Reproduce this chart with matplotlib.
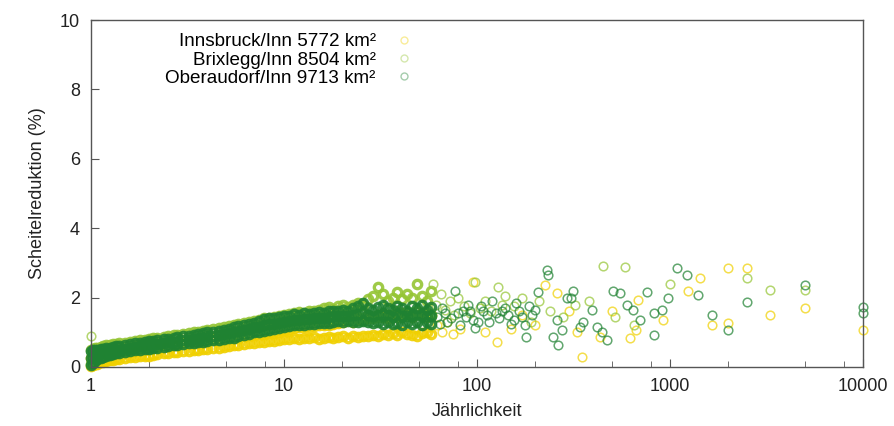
import matplotlib
matplotlib.use('Agg')
import matplotlib.pyplot as plt
from matplotlib.lines import Line2D
from matplotlib.ticker import FixedLocator, NullFormatter
import numpy as np

plt.rcParams['font.family'] = ['Liberation Sans', 'DejaVu Sans']

# ---- data ----
# dense part (T <= ~60): shared return periods, lower / upper edge of the scatter
t_dense = [1.0, 1.02, 1.05, 1.08, 1.12, 1.16, 1.2, 1.25, 1.3, 1.35,
           1.4, 1.5, 1.6, 1.7, 1.8, 1.9, 2.0, 2.1, 2.2, 2.4,
           2.5, 2.7, 2.8, 3.0, 3.2, 3.4, 3.6, 3.8, 4.0, 4.3,
           4.6, 4.9, 5.2, 5.5, 5.8, 6.2, 6.6, 7.0, 7.4, 7.9,
           8.4, 8.9, 9.4, 10, 10.6, 11.3, 12, 12.7, 13.5, 14.3,
           15.2, 16.1, 17, 18, 19.1, 20.3, 21.5, 22.8, 24.2, 25.7,
           27.2, 28.8, 30.6, 32.4, 34.4, 36.5, 38.7, 41, 43.5, 46,
           49, 52, 55, 58]

inn_lo = [0.02, 0.05, 0.08, 0.1, 0.13, 0.15, 0.17, 0.19, 0.21, 0.23,
          0.24, 0.26, 0.28, 0.3, 0.31, 0.32, 0.33, 0.35, 0.37, 0.39,
          0.4, 0.42, 0.43, 0.45, 0.47, 0.48, 0.5, 0.51, 0.53, 0.55,
          0.56, 0.58, 0.6, 0.62, 0.64, 0.66, 0.68, 0.7, 0.72, 0.73,
          0.74, 0.76, 0.78, 0.8, 0.82, 0.84, 0.82, 0.85, 0.83, 0.86,
          0.82, 0.84, 0.87, 0.83, 0.86, 0.88, 0.84, 0.9, 0.86, 0.9,
          0.88, 0.93, 0.9, 0.95, 0.92, 0.97, 0.92, 1.0, 0.95, 0.92,
          0.9, 0.98, 1.02, 0.95]
inn_hi = [0.25, 0.27, 0.28, 0.3, 0.32, 0.33, 0.35, 0.36, 0.38, 0.39,
          0.4, 0.42, 0.44, 0.46, 0.48, 0.5, 0.52, 0.54, 0.56, 0.58,
          0.6, 0.62, 0.64, 0.66, 0.68, 0.7, 0.72, 0.74, 0.76, 0.78,
          0.8, 0.82, 0.84, 0.86, 0.88, 0.9, 0.93, 0.96, 0.98, 1.0,
          1.02, 1.04, 1.06, 1.08, 1.1, 1.12, 1.14, 1.15, 1.16, 1.18,
          1.2, 1.2, 1.22, 1.25, 1.28, 1.3, 1.35, 1.3, 1.38, 1.35,
          1.4, 1.45, 1.5, 1.45, 1.4, 1.5, 1.45, 1.55, 1.5, 1.45,
          1.6, 1.55, 1.45, 1.5]

brx_lo = [0.08, 0.15, 0.2, 0.25, 0.3, 0.33, 0.35, 0.38, 0.4, 0.43,
          0.45, 0.48, 0.5, 0.52, 0.55, 0.56, 0.58, 0.6, 0.62, 0.64,
          0.65, 0.68, 0.7, 0.72, 0.74, 0.76, 0.78, 0.8, 0.82, 0.84,
          0.86, 0.88, 0.9, 0.93, 0.96, 1.0, 1.02, 1.05, 1.08, 1.1,
          1.12, 1.15, 1.18, 1.2, 1.22, 1.25, 1.26, 1.28, 1.3, 1.3,
          1.32, 1.35, 1.38, 1.4, 1.38, 1.4, 1.42, 1.38, 1.45, 1.4,
          1.5, 1.42, 1.45, 1.55, 1.5, 1.45, 1.6, 1.5, 1.48, 1.55,
          1.6, 1.5, 1.55, 1.5]
brx_hi = [0.5, 0.52, 0.55, 0.56, 0.58, 0.6, 0.62, 0.63, 0.65, 0.66,
          0.68, 0.7, 0.72, 0.75, 0.77, 0.79, 0.81, 0.83, 0.85, 0.87,
          0.89, 0.91, 0.93, 0.95, 0.97, 1.0, 1.02, 1.04, 1.06, 1.09,
          1.12, 1.14, 1.17, 1.2, 1.23, 1.27, 1.3, 1.33, 1.36, 1.4,
          1.42, 1.45, 1.48, 1.5, 1.53, 1.55, 1.58, 1.56, 1.6, 1.62,
          1.65, 1.7, 1.72, 1.68, 1.75, 1.8, 1.72, 1.78, 1.85, 1.8,
          1.95, 2.05, 2.3, 2.1, 1.9, 2.0, 2.15, 1.95, 2.1, 2.0,
          2.4, 2.05, 1.9, 2.2]

obd_lo = [0.05, 0.12, 0.18, 0.22, 0.26, 0.3, 0.32, 0.35, 0.37, 0.4,
          0.41, 0.44, 0.46, 0.48, 0.5, 0.52, 0.53, 0.55, 0.56, 0.58,
          0.6, 0.62, 0.63, 0.65, 0.68, 0.7, 0.72, 0.73, 0.75, 0.77,
          0.78, 0.8, 0.83, 0.85, 0.88, 0.92, 0.96, 1.0, 1.02, 1.05,
          1.08, 1.1, 1.12, 1.15, 1.18, 1.2, 1.22, 1.22, 1.24, 1.25,
          1.26, 1.27, 1.28, 1.3, 1.32, 1.3, 1.32, 1.3, 1.3, 1.32,
          1.3, 1.28, 1.3, 1.25, 1.3, 1.25, 1.28, 1.22, 1.3, 1.25,
          1.3, 1.22, 1.3, 1.25]
obd_mid = [0.25, 0.3, 0.34, 0.36, 0.39, 0.41, 0.43, 0.45, 0.47, 0.5,
           0.5, 0.53, 0.55, 0.58, 0.6, 0.62, 0.63, 0.65, 0.67, 0.69,
           0.71, 0.73, 0.75, 0.77, 0.79, 0.81, 0.84, 0.85, 0.88, 0.9,
           0.92, 0.94, 0.97, 1.0, 1.03, 1.06, 1.1, 1.14, 1.16, 1.2,
           1.23, 1.25, 1.27, 1.3, 1.33, 1.36, 1.36, 1.38, 1.38, 1.4,
           1.42, 1.41, 1.44, 1.46, 1.46, 1.48, 1.47, 1.5, 1.52, 1.58,
           1.5, 1.46, 1.51, 1.52, 1.5, 1.45, 1.52, 1.46, 1.46, 1.5,
           1.5, 1.51, 1.48, 1.48]
obd_hi = [0.45, 0.48, 0.5, 0.5, 0.52, 0.53, 0.55, 0.56, 0.58, 0.6,
          0.6, 0.63, 0.65, 0.68, 0.7, 0.72, 0.74, 0.76, 0.78, 0.8,
          0.82, 0.84, 0.86, 0.88, 0.9, 0.93, 0.95, 0.97, 1.0, 1.02,
          1.05, 1.08, 1.1, 1.14, 1.18, 1.2, 1.24, 1.28, 1.32, 1.37,
          1.4, 1.42, 1.44, 1.46, 1.48, 1.52, 1.5, 1.55, 1.52, 1.55,
          1.58, 1.55, 1.6, 1.62, 1.6, 1.65, 1.62, 1.7, 1.75, 1.85,
          1.7, 1.65, 1.72, 1.8, 1.7, 1.65, 1.75, 1.7, 1.62, 1.75,
          1.7, 1.8, 1.65, 1.72]

# sparse part (single events)
t_inn = [62, 66, 70, 75, 82, 95, 110, 127, 150, 170, 200, 225, 260, 300, 330,
         350, 435, 500, 620, 670, 680, 920, 1240, 1430, 1650, 2000, 2000, 2500,
         3300, 5000, 10000]
y_inn = [1.2, 1.0, 1.3, 0.95, 1.1, 2.45, 1.0, 0.72, 1.1, 1.5, 1.2, 2.36, 2.13, 1.6, 1.0,
         0.29, 0.86, 1.6, 0.84, 1.07, 1.93, 1.35, 2.2, 2.56, 1.2, 2.85, 1.27, 2.85,
         1.5, 1.7, 1.07]

t_brx = [1.0, 59, 61, 65, 68, 72, 76, 80, 86, 92, 98, 104, 110, 118, 128, 135, 140, 155,
         170, 190, 210, 240, 280, 320, 380, 447, 520, 583, 650, 1000, 2500, 3300, 5000]
y_brx = [0.9, 2.4, 1.8, 2.1, 1.65, 1.9, 1.5, 2.0, 1.75, 1.55, 2.45, 1.7, 1.9, 1.6, 2.3, 1.8, 2.05, 1.75,
         2.0, 1.3, 1.9, 1.6, 1.45, 1.8, 1.9, 2.9, 1.45, 2.88, 1.2, 2.4, 2.56, 2.22, 2.22]

t_obd = [62, 64, 66, 68, 70, 73, 77, 80, 82, 85, 88, 90, 92, 95, 98, 101, 105, 108,
         112, 116, 120, 125, 130, 135, 140, 145, 150, 155, 160, 165, 170, 177, 180,
         185, 192, 200, 207, 230, 233, 248, 260, 262, 275, 292, 305, 315, 340, 355,
         394, 420, 445, 470, 505, 550, 600, 640, 700, 760, 830, 830, 910, 980, 1090,
         1220, 1400, 1650, 2000, 2500, 5000, 10000, 10000]
y_obd = [1.45, 1.25, 1.7, 1.55, 1.3, 1.4, 2.2, 1.55, 1.2, 1.6, 1.45, 1.8, 1.6, 1.35, 1.12, 1.3, 1.75, 1.6,
         1.5, 1.3, 1.9, 1.55, 1.4, 1.6, 1.7, 1.5, 1.25, 1.35, 1.85, 1.6, 1.45, 1.2, 0.86,
         1.75, 1.5, 1.64, 2.17, 2.8, 2.65, 0.86, 1.35, 0.63, 1.07, 2.0, 2.0, 2.2, 1.15, 1.3,
         1.64, 1.15, 1.0, 0.78, 2.2, 2.13, 1.8, 1.64, 1.35, 2.17, 1.55, 0.92, 1.64, 2.0, 2.85,
         2.65, 2.07, 1.5, 1.07, 1.87, 2.36, 1.73, 1.55]

labels = ['Innsbruck/Inn 5772 km²', 'Brixlegg/Inn 8504 km²', 'Oberaudorf/Inn 9713 km²']
colors = ['#f0d000', '#95c534', '#1f8232']

fig = plt.figure(figsize=(8.94, 4.26), dpi=100)
ax = fig.add_axes([0.1018, 0.1385, 0.8636, 0.8145])

dense = [(inn_lo, inn_hi), (brx_lo, brx_hi), (obd_lo, obd_mid, obd_hi)]
sparse = [(t_inn, y_inn), (t_brx, y_brx), (t_obd, y_obd)]

for k in range(3):
    c = colors[k]
    for rows in dense[k]:
        ax.plot(t_dense, rows, linestyle='none', marker='o', ms=6, mfc='none',
                mec=c, mew=2.4, alpha=0.9, clip_on=False)
    ax.plot(sparse[k][0], sparse[k][1], linestyle='none', marker='o', ms=6.2,
            mfc='none', mec=c, mew=1.1, alpha=0.7, clip_on=False)

ax.set_xscale('log')
ax.set_xlim(1, 10000)
ax.set_ylim(0, 10)
ax.xaxis.set_major_locator(FixedLocator([1, 10, 100, 1000, 10000]))
ax.set_xticklabels(['1', '10', '100', '1000', '10000'])
minors = []
for d in [1, 10, 100, 1000]:
    minors += [2 * d, 5 * d, 8 * d]
ax.xaxis.set_minor_locator(FixedLocator(minors))
ax.xaxis.set_minor_formatter(NullFormatter())
ax.set_yticks([0, 2, 4, 6, 8, 10])

for s in ax.spines.values():
    s.set_color('#555555')
    s.set_linewidth(1.0)
ax.tick_params(which='both', direction='in', colors='#555555', labelcolor='#222222',
               labelsize=13, top=False, right=False)
ax.tick_params(which='major', length=6, pad=8)
ax.tick_params(which='minor', length=4)

ax.set_xlabel('Jährlichkeit', fontsize=13, color='#222222', labelpad=6)
ax.set_ylabel('Scheitelreduktion (%)', fontsize=13, color='#222222', labelpad=10)

handles = [Line2D([], [], linestyle='none', marker='o', ms=5, mfc='none',
                  mec=c, mew=1.0, alpha=0.4) for c in colors]
ax.legend(handles, labels, loc='upper right', bbox_to_anchor=(0.435, 1.0),
          markerfirst=False, frameon=False, fontsize=13.6, handlelength=1.0,
          handletextpad=1.0, labelspacing=0.05, borderaxespad=0.3)

fig.savefig('out.png', dpi=100)
